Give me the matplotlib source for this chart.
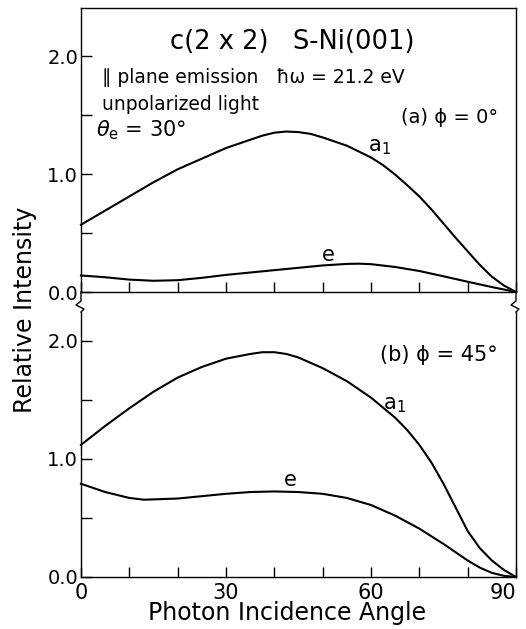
import matplotlib
matplotlib.use("Agg")
import matplotlib.pyplot as plt
from matplotlib.lines import Line2D
from matplotlib.ticker import MultipleLocator, FormatStrFormatter

# ---------------- data ----------------
angles_a_a1 = [0, 5, 10, 15, 20, 25, 30, 35, 37.5, 40, 42.5, 45, 47.5, 50, 55, 60, 62.5, 65,
               67.5, 70, 72.5, 75, 77.5, 80, 82.5, 85, 87.5, 90]
a_a1 = [0.57, 0.69, 0.81, 0.93, 1.04, 1.13, 1.22, 1.29, 1.325, 1.35, 1.36, 1.355, 1.34, 1.31,
        1.24, 1.14, 1.075, 0.995, 0.905, 0.81, 0.70, 0.58, 0.46, 0.345, 0.23, 0.13, 0.055, 0.0]

angles_a_e = [0, 5, 10, 15, 20, 25, 30, 35, 40, 45, 50, 55, 57.5, 60, 65, 70, 75, 80, 85, 90]
a_e = [0.14, 0.125, 0.105, 0.095, 0.10, 0.12, 0.145, 0.165, 0.185, 0.205, 0.225, 0.238, 0.24,
       0.236, 0.212, 0.178, 0.133, 0.087, 0.042, 0.0]

angles_b_a1 = [0, 5, 10, 15, 20, 25, 30, 35, 37.5, 40, 42.5, 45, 50, 55, 60, 65, 67.5, 70,
               72.5, 75, 77.5, 80, 82.5, 85, 87.5, 90]
b_a1 = [1.12, 1.28, 1.43, 1.57, 1.69, 1.78, 1.85, 1.89, 1.905, 1.905, 1.89, 1.86, 1.77, 1.66,
        1.52, 1.35, 1.245, 1.12, 0.97, 0.79, 0.59, 0.39, 0.245, 0.14, 0.06, 0.0]

angles_b_e = [0, 5, 10, 13, 20, 25, 30, 35, 40, 45, 50, 55, 60, 65, 70, 75, 80, 82.5, 85, 87.5,
              90]
b_e = [0.79, 0.72, 0.67, 0.655, 0.665, 0.685, 0.705, 0.72, 0.725, 0.72, 0.705, 0.67, 0.61,
       0.52, 0.41, 0.28, 0.14, 0.08, 0.035, 0.01, 0.0]

x_major_ticks = [0, 30, 60, 90]
x_tick_labels = ["0", "30", "60", "90"]

# ---------------- figure ----------------
W, H = 526, 629
fig = plt.figure(figsize=(W / 100, H / 100), dpi=100)
plt.rcParams['font.family'] = ['DejaVu Sans']


def fr(x0, top, x1, bottom):
    return [x0 / W, 1 - bottom / H, (x1 - x0) / W, (bottom - top) / H]


L, R = 81, 516
ax_a = fig.add_axes(fr(L, 8, R, 292))
ax_b = fig.add_axes(fr(L, 312, R, 577))

lw_curve = 1.5
lw_axis = 1.0

for ax, ytop in ((ax_a, (292 - 8) / 118.0), (ax_b, (577 - 312) / 118.0)):
    ax.set_xlim(0, 90)
    ax.set_ylim(0, ytop)
    for s in ax.spines.values():
        s.set_linewidth(lw_axis)
    ax.xaxis.set_major_locator(MultipleLocator(30))
    ax.xaxis.set_minor_locator(MultipleLocator(10))
    ax.yaxis.set_major_locator(MultipleLocator(1.0))
    ax.yaxis.set_minor_locator(MultipleLocator(0.5))
    ax.yaxis.set_major_formatter(FormatStrFormatter('%.1f'))
    ax.tick_params(axis='both', which='both', direction='in', top=False, right=False,
                   width=1.0)
    ax.tick_params(axis='x', which='both', length=7)
    ax.tick_params(axis='y', which='both', length=8)
    ax.tick_params(axis='y', labelsize=14, pad=2)

ax_a.tick_params(axis='x', labelbottom=False)
ax_b.spines['top'].set_visible(False)
ax_b.set_xticks(x_major_ticks)
ax_b.set_xticklabels(x_tick_labels)
ax_b.tick_params(axis='x', labelsize=15, pad=4)
ax_b.get_xticklabels()[-1].set_horizontalalignment('right')

# curves
ax_a.plot(angles_a_a1, a_a1, color='black', lw=lw_curve, clip_on=False)
ax_a.plot(angles_a_e, a_e, color='black', lw=lw_curve, clip_on=False)
ax_b.plot(angles_b_a1, b_a1, color='black', lw=lw_curve, clip_on=False)
ax_b.plot(angles_b_e, b_e, color='black', lw=lw_curve, clip_on=False)

# axis break zigzags (figure pixel coordinates)
def zig(x, sgn):
    xs = [x, x, x - 5 * sgn, x + 3 * sgn, x]
    ys = [292, 301, 305, 309, 312]
    fig.add_artist(Line2D([v / W for v in xs], [1 - v / H for v in ys],
                          color='black', lw=lw_axis, transform=fig.transFigure))

zig(L, 1)
zig(R, 1)

# annotations
ax_a.text(43.7, 2.12, "c(2 x 2)   S-Ni(001)", fontsize=18.5, ha='center', va='center')
ax_a.text(4.3, 1.82, "\u2225 plane emission   \u0127\u03c9 = 21.2 eV", fontsize=13.5,
          ha='left', va='center')
ax_a.text(4.3, 1.59, "unpolarized light", fontsize=13.5, ha='left', va='center')
ax_a.text(3.0, 1.37, r"$\theta_{\rm e}$ = 30°", fontsize=15, ha='left', va='center')
ax_a.text(86.3, 1.48, "(a) \u03d5 = 0°", fontsize=14, ha='right', va='center')
ax_a.text(59.4, 1.23, r"a$_1$", fontsize=15, ha='left', va='center')
ax_a.text(51.1, 0.31, "e", fontsize=15, ha='center', va='center')

ax_b.text(86.3, 1.88, "(b) \u03d5 = 45°", fontsize=15, ha='right', va='center')
ax_b.text(62.5, 1.46, r"a$_1$", fontsize=15, ha='left', va='center')
ax_b.text(43.3, 0.82, "e", fontsize=15, ha='center', va='center')

# axis labels
fig.text(25 / W, 1 - 310 / H, "Relative Intensity", rotation=90, fontsize=17,
         ha='center', va='center')
fig.text(287 / W, 1 - 613 / H, "Photon Incidence Angle", fontsize=17,
         ha='center', va='center')

fig.savefig("out.png", dpi=100)
